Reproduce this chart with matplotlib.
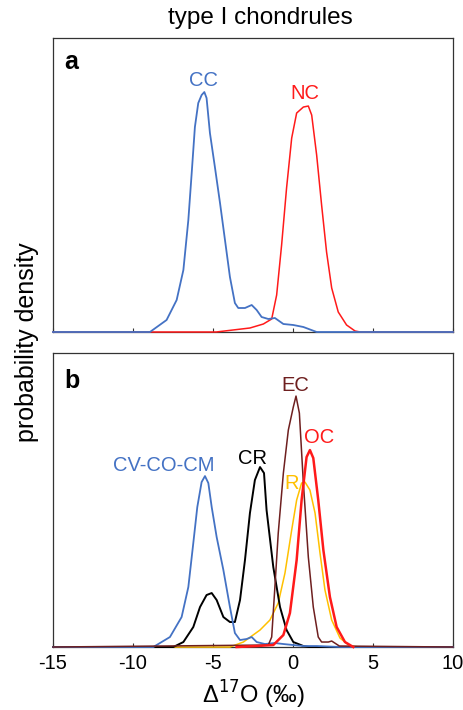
import matplotlib.pyplot as plt

plt.rcParams['font.family'] = ['Liberation Sans', 'DejaVu Sans']
plt.rcParams['axes.unicode_minus'] = False

# --- panel a: type I chondrules, CC vs NC (density in arbitrary units) ---
cc_x = [-15, -8.94, -7.9, -7.27, -6.85, -6.54, -6.33, -6.13, -5.92, -5.71, -5.54, -5.4,
        -5.19, -4.88, -4.56, -4.25, -3.94, -3.63, -3.42, -3.0, -2.58, -2.27, -1.96,
        -1.54, -1.13, -0.6, 0.02, 0.65, 1.48, 10]
cc_y = [0, 0, 12, 32, 62, 112, 159, 205, 229, 237, 240, 234,
        199, 165, 129, 92, 55, 29, 24, 24, 27, 22, 15,
        13, 14, 8, 7, 5, 0, 0]

nc_x = [-15, -4.8, -2.69, -1.85, -1.33, -1.02, -0.71, -0.4, -0.08, 0.23, 0.65, 0.96,
        1.17, 1.48, 1.79, 2.1, 2.42, 2.83, 3.35, 3.88, 4.2, 10]
nc_y = [0, 0, 4, 8, 13, 37, 87, 144, 194, 219, 225, 226,
        217, 177, 127, 80, 44, 20, 7, 1, 0, 0]

# --- panel b: by chondrite group ---
cvcocm_x = [-15, -8.73, -7.69, -6.96, -6.54, -6.23, -5.98, -5.71, -5.5, -5.29, -5.08,
            -4.77, -4.35, -3.94, -3.63, -3.31, -2.9, -2.58, -2.27, -1.75, -1.13,
            -0.6, 0.02, 0.65, 1.5, 3.0, 10]
cvcocm_y = [0, 0, 10, 30, 60, 104, 140, 165, 171, 164, 140,
            110, 77, 40, 14, 7, 8, 10, 5, 3, 4,
            3, 2, 1, 1, 0, 0]

cr_x = [-15, -7.48, -6.85, -6.23, -5.81, -5.4, -5.08, -4.77, -4.35, -3.94, -3.63,
        -3.31, -3.0, -2.69, -2.38, -2.06, -1.81, -1.65, -1.23, -0.81, -0.4, 0.02,
        0.65, 1.0, 10]
cr_y = [0, 0, 5, 20, 40, 52, 54, 47, 30, 25, 25,
        47, 87, 134, 167, 180, 174, 137, 80, 40, 17, 5,
        1, 0, 0]

ec_x = [-15, -1.54, -1.33, -1.13, -0.92, -0.6, -0.29, 0.02, 0.19, 0.4, 0.65, 0.96,
        1.27, 1.58, 1.79, 2.21, 2.42, 2.9, 10]
ec_y = [0, 2, 10, 60, 114, 174, 217, 240, 251, 234, 164, 90,
        40, 10, 5, 5, 6, 1, 0]

oc_x = [-3.52, -2.27, -1.23, -0.6, -0.19, 0.23, 0.54, 0.85, 1.06, 1.27, 1.58, 1.9,
        2.31, 2.73, 3.25, 3.77]
oc_y = [0, 1, 2, 12, 34, 87, 147, 190, 197, 189, 147, 97,
        50, 20, 5, 0]

r_x = [-15, -3.94, -3.1, -2.06, -1.44, -0.92, -0.5, -0.08, 0.23, 0.54, 0.75, 1.06,
       1.38, 1.69, 2.0, 2.42, 2.94, 3.56, 4.19, 10]
r_y = [0, 0, 5, 17, 27, 44, 74, 117, 147, 164, 165, 157,
       134, 94, 57, 27, 9, 1, 0, 0]

blue = '#4472C4'
red = '#FF1A1A'
brown = '#6E1F1F'
gold = '#FFC000'

fig = plt.figure(figsize=(4.64, 7.10), dpi=100)
ax1 = fig.add_axes([0.1142, 0.5324, 0.862, 0.414])
ax2 = fig.add_axes([0.1142, 0.0887, 0.862, 0.414])

ax1.plot(nc_x, nc_y, color=red, lw=1.1, clip_on=False, zorder=3)
ax1.plot(cc_x, cc_y, color=blue, lw=1.3, clip_on=False, zorder=3)
ax1.text(-5.62, 252, 'CC', color=blue, fontsize=14.5, ha='center', va='center')
ax1.text(0.75, 239, 'NC', color=red, fontsize=14.5, ha='center', va='center')
ax1.text(-14.3, 270, 'a', fontsize=18, fontweight='bold', ha='left', va='center')

ax2.plot(r_x, r_y, color=gold, lw=1.1, clip_on=False, zorder=3)
ax2.plot(cr_x, cr_y, color='black', lw=1.4, clip_on=False, zorder=3)
ax2.plot(ec_x, ec_y, color=brown, lw=1.1, clip_on=False, zorder=4)
ax2.plot(oc_x, oc_y, color=red, lw=1.8, clip_on=False, zorder=4)
ax2.plot(cvcocm_x, cvcocm_y, color=blue, lw=1.3, clip_on=False, zorder=3)
ax2.text(-8.1, 182, 'CV-CO-CM', color=blue, fontsize=14.5, ha='center', va='center')
ax2.text(-2.52, 189, 'CR', color='black', fontsize=14.5, ha='center', va='center')
ax2.text(0.13, 262, 'EC', color=brown, fontsize=14.5, ha='center', va='center')
ax2.text(1.63, 210, 'OC', color=red, fontsize=14.5, ha='center', va='center')
ax2.text(-0.1, 164, 'R', color=gold, fontsize=14.5, ha='center', va='center')
ax2.text(-14.3, 266, 'b', fontsize=18, fontweight='bold', ha='left', va='center')

for ax in (ax1, ax2):
    ax.set_xlim(-15, 10)
    ax.set_ylim(0, 294)
    ax.set_xticks([-15, -10, -5, 0, 5, 10])
    ax.set_yticks([])
    ax.tick_params(axis='x', direction='in', length=3, width=0.8, color='#333333',
                   labelsize=14.5, pad=5)
    for s in ax.spines.values():
        s.set_color('#333333')
        s.set_linewidth(0.9)

ax1.tick_params(axis='x', labelbottom=False)
ax2.set_xlabel('Δ$^{17}$O (‰)', fontsize=17, labelpad=4)
fig.text(0.561, 0.974, 'type I chondrules', fontsize=17.5, ha='center', va='center')
fig.text(0.058, 0.518, 'probability density', rotation=90, fontsize=18,
         ha='center', va='center')

plt.savefig('out.png', dpi=100)
